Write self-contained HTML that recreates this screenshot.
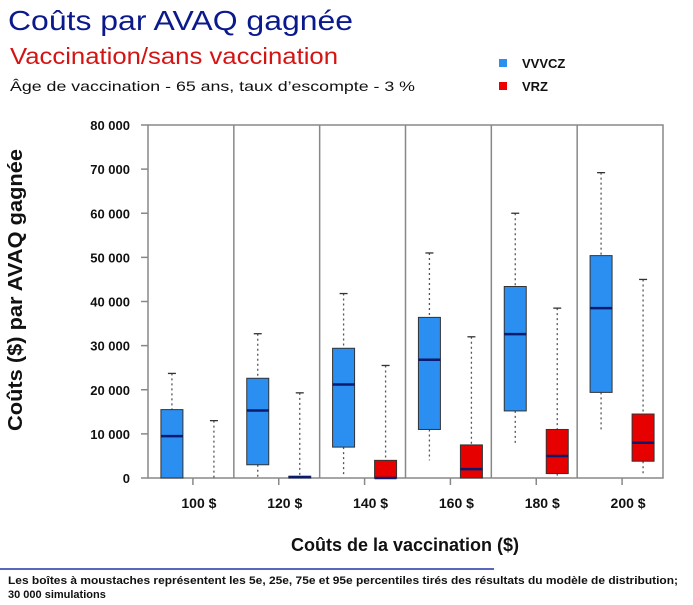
<!DOCTYPE html>
<html><head><meta charset="utf-8"><style>
body{margin:0;width:693px;height:605px;background:#fff;overflow:hidden;font-family:"Liberation Sans","DejaVu Sans",sans-serif}
</style></head><body>
<svg width="693" height="605" style="position:absolute;left:0;top:0">
<text x="8" y="30" font-size="28" fill="#0a1a8c" textLength="345" lengthAdjust="spacingAndGlyphs">Coûts par AVAQ gagnée</text>
<text x="10" y="64" font-size="23" fill="#d41313" textLength="328" lengthAdjust="spacingAndGlyphs">Vaccination/sans vaccination</text>
<text x="10" y="91" font-size="14" fill="#111" textLength="405" lengthAdjust="spacingAndGlyphs">Âge de vaccination - 65 ans, taux d’escompte - 3 %</text>
<rect x="499" y="59" width="8" height="8" fill="#2a8ff0"/>
<text x="522" y="68" font-size="13" font-weight="bold" fill="#111">VVVCZ</text>
<rect x="499" y="82" width="8" height="8" fill="#e00"/>
<text x="522" y="91" font-size="13" font-weight="bold" fill="#111">VRZ</text>
<g id="plot"></g>
<text transform="translate(22,290) rotate(-90)" text-anchor="middle" font-size="20" font-weight="bold" fill="#111" textLength="282" lengthAdjust="spacingAndGlyphs">Coûts ($) par AVAQ gagnée</text>
<text x="405" y="551" text-anchor="middle" font-size="18" font-weight="bold" fill="#111">Coûts de la vaccination ($)</text>
<line x1="0" y1="569" x2="494" y2="569" stroke="#2233aa" stroke-width="1.5"/>
<text x="8" y="584" font-size="11" font-weight="bold" fill="#111" textLength="670" lengthAdjust="spacingAndGlyphs">Les boîtes à moustaches représentent les 5e, 25e, 75e et 95e percentiles tirés des résultats du modèle de distribution;</text>
<text x="8" y="598" font-size="11" font-weight="bold" fill="#111">30 000 simulations</text>
</svg>
<script>
const categories=["100 $","120 $","140 $","160 $","180 $","200 $"];
const yTicks=[0,10000,20000,30000,40000,50000,60000,70000,80000];
const yTickLabels=["0","10 000","20 000","30 000","40 000","50 000","60 000","70 000","80 000"];
const vvvczP5=[0,0,300,4000,7500,11000];
const vvvczQ1=[0,3000,7000,11000,15200,19400];
const vvvczMed=[9500,15300,21200,26800,32600,38500];
const vvvczQ3=[15500,22600,29400,36400,43400,50400];
const vvvczP95=[23700,32700,41800,51000,60000,69200];
const vrzP5=[0,0,0,0,0,500];
const vrzQ1=[0,0,0,0,1000,3800];
const vrzMed=[0,200,0,2000,5000,8000];
const vrzQ3=[0,400,4000,7500,11000,14500];
const vrzP95=[13000,19300,25500,32000,38500,45000];

const NS="http://www.w3.org/2000/svg";
const g=document.getElementById('plot');
const x0=148,x1=663,y0=478,y1=125,yMax=80000;
const bandW=(x1-x0)/categories.length;
function yS(v){return y0-(v/yMax)*(y0-y1);}
function xS(i){return x0+bandW*(i+0.5)+2;}
function mk(tag,attrs){const e=document.createElementNS(NS,tag);for(const k in attrs)e.setAttribute(k,attrs[k]);g.appendChild(e);return e;}
let e=mk('rect',{x:x0,y:y1,width:x1-x0,height:y0-y1,fill:'none',stroke:'#888','stroke-width':1.5});


for(let i=1;i<categories.length;i++){
 e=mk('line',{x1:x0+bandW*i,x2:x0+bandW*i,y1:y1,y2:y0,stroke:'#888','stroke-width':1.5});
 
 
}
yTicks.forEach((t,i)=>{
 e=mk('line',{x1:x0-7,x2:x0,y1:yS(t),y2:yS(t),stroke:'#888','stroke-width':1.5});
 
 
 e=mk('text',{x:x0-18,y:yS(t)+5,'text-anchor':'end','font-size':13,'font-weight':'bold',fill:'#111'});
 e.textContent=yTickLabels[i];
 
 
});
function box(cx,p5,q1,med,q3,p95,color,name){
 const w=22;
 e=mk('line',{x1:cx,x2:cx,y1:yS(p95),y2:yS(q3),stroke:'#555','stroke-dasharray':'2,3','stroke-width':1.3});
 
 
 e=mk('line',{x1:cx,x2:cx,y1:yS(q1),y2:yS(p5),stroke:'#555','stroke-dasharray':'2,3','stroke-width':1.3});
 
 
 e=mk('line',{x1:cx-4,x2:cx+4,y1:yS(p95),y2:yS(p95),stroke:'#333','stroke-width':1.3});
 
 
 if(q3>q1){
 e=mk('rect',{x:cx-w/2,y:yS(q3),width:w,height:yS(q1)-yS(q3),fill:color,stroke:'#333','stroke-width':1});
 
 
 e=mk('line',{x1:cx-w/2,x2:cx+w/2,y1:yS(med),y2:yS(med),stroke:'#0a1a6c','stroke-width':2.5});
 
 
 }
}
categories.forEach((c,i)=>{
 const cx=xS(i);
 e=mk('line',{x1:cx,x2:cx,y1:y0,y2:y0+7,stroke:'#888','stroke-width':1.5});
 
 
 e=mk('text',{x:cx+6,y:y0+30,'text-anchor':'middle','font-size':14,'font-weight':'bold',fill:'#111'});
 e.textContent=c;
 
 
 box(cx-21,vvvczP5[i],vvvczQ1[i],vvvczMed[i],vvvczQ3[i],vvvczP95[i],'#2a8ff0','vvvcz');
 box(cx+21,vrzP5[i],vrzQ1[i],vrzMed[i],vrzQ3[i],vrzP95[i],'#e60000','vrz');
});
</script>
</body></html>
